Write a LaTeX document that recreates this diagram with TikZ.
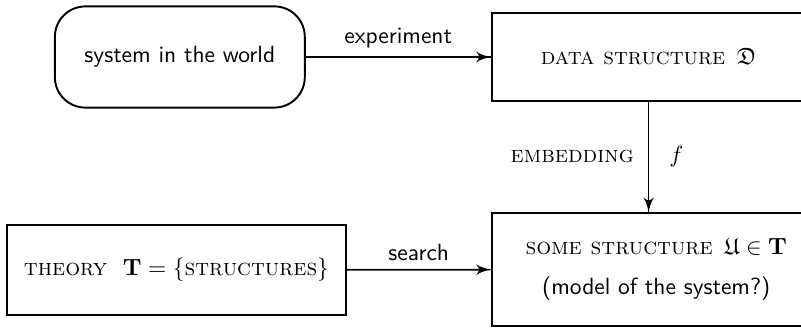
\documentclass[11pt,tikz,border=0pt]{standalone}
\usepackage{amsfonts}
\usepackage{amsmath}
\usepackage{amssymb}
\usepackage{tikz}
\usetikzlibrary{arrows}
\usetikzlibrary{decorations.markings}
\usetikzlibrary{positioning}
\tikzset{->/.style = {decoration={markings,
                                  mark=at position 1 with {\arrow[scale=1.3]{latex'}}},
                      postaction={decorate}}}
\tikzset{box/.style = {draw, line width = 0.9pt, rectangle, inner sep = 0, minimum width = 5.15cm}}
\tikzset{roundbox/.style = {draw, line width = 0.9pt, rectangle, rounded corners = 0.5cm, inner sep = 0,
                            minimum width = 4.1cm, minimum height = 1.66cm, font = \sffamily}}

\begin{document}
\begin{tikzpicture}
          \useasboundingbox (0, 0) rectangle (13.14, -5.38);
          \node [roundbox] (sys) at (2.95, -0.935) {system in the world};
          \node [box, minimum height = 1.443cm] (data) at (10.64, -0.935) {\textsc{data structure}\ \,$\mathfrak{D}$};
          \node [box, minimum height = 1.853cm, align = center] (model) at (10.64, -4.42)
                {\hspace{0.25cm}\textsc{some structure}\ \,$\mathfrak{U} \in \mathbf{T}$\\[5pt]\hspace{0.25cm}\sffamily (model of the system?)};
          \node [box, minimum width = 5.56cm, minimum height = 1.476cm] (theory) at (2.895, -4.43)
                {\textsc{theory}\ \ $\mathbf{T} = \{\textsc{structures}\}$};
          \draw [thick, ->] (sys) -- (data) node [midway, above, font = \sffamily] {experiment};
          \draw [thick, ->] (data) -- (data |- model.north) node [midway, left, xshift = -0.1cm] {\textsc{embedding}}
                                            node [midway, right, xshift = 0.2cm] {$f$};
          \draw [thick, ->] (theory) -- (model) node [midway, above, font = \sffamily] {search};
        \end{tikzpicture}
\end{document}
